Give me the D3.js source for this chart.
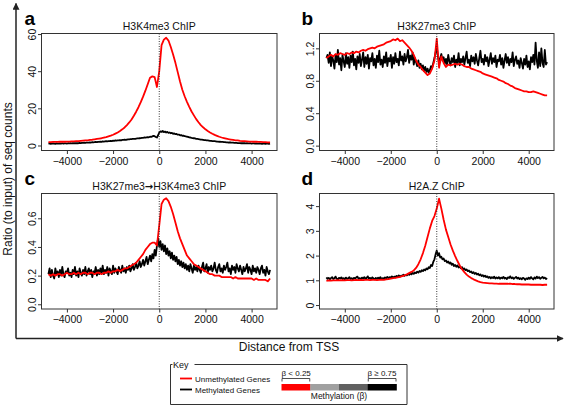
<!DOCTYPE html>
<html>
<head>
<meta charset="utf-8">
<script src="https://cdn.jsdelivr.net/npm/d3@7"></script>
<style>
  html, body { margin: 0; padding: 0; background: #fff; }
  svg { display: block; font-family: "Liberation Sans", Arial, Helvetica, sans-serif; }
</style>
</head>
<body>
<svg id="chart" width="567" height="407"></svg>
<script>
// ---------------- data ----------------
const distCoarse = d3.range(-4800, 4801, 100);   // 97 bins (red series)
const distFine = d3.range(-4800, 4801, 50);      // 193 bins (black series)
const xTicks = [-4000, -2000, 0, 2000, 4000];

const panelTitles = ["H3K4me3 ChIP", "H3K27me3 ChIP", "H3K27me3\u2192H3K4me3 ChIP", "H2A.Z ChIP"];
const panelLetters = ["a", "b", "c", "d"];
const seriesNames = ["Unmethylated Genes", "Methylated Genes"];

const yTicksA = [0, 20, 40, 60];
const yTickLabelsA = ["0", "20", "40", "60"];
const yTicksB = [0, 0.4, 0.8, 1.2];
const yTickLabelsB = ["0.0", "0.4", "0.8", "1.2"];
const yTicksC = [0, 0.2, 0.4, 0.6];
const yTickLabelsC = ["0.0", "0.2", "0.4", "0.6"];
const yTicksD = [0, 1, 2, 3, 4];
const yTickLabelsD = ["0", "1", "2", "3", "4"];

// Panel a: H3K4me3
const unmethA = [
  1.8,1.8,1.9,1.9,1.9,2.0,2.0,2.0,2.1,2.1,
  2.2,2.2,2.3,2.4,2.5,2.6,2.7,2.8,3.0,3.1,
  3.3,3.5,3.7,3.9,4.2,4.5,4.9,5.3,5.8,6.4,
  7.0,7.8,8.7,9.7,11.0,12.4,14.0,16.0,18.2,20.6,
  23.3,26.3,29.5,33.0,36.5,37.2,36.8,31.5,40.0,54.0,
  57.0,58.0,56.5,53.0,49.0,44.5,39.5,34.5,30.0,26.5,
  23.5,20.8,18.3,16.2,14.2,12.5,11.0,9.8,8.7,7.8,
  7.0,6.3,5.7,5.2,4.7,4.3,4.0,3.7,3.4,3.2,
  3.0,2.8,2.7,2.5,2.4,2.3,2.2,2.1,2.1,2.0,
  2.0,1.9,1.9,1.8,1.8,1.7,1.7
];
const methA = [
  1.0,1.1,0.9,1.0,1.1,1.0,0.9,1.1,1.0,1.0,
  1.1,1.0,1.2,1.0,1.1,1.1,1.0,1.2,1.1,1.2,
  1.1,1.2,1.2,1.3,1.2,1.3,1.2,1.4,1.3,1.4,
  1.4,1.5,1.4,1.6,1.5,1.6,1.7,1.6,1.8,1.7,
  1.8,1.9,1.8,2.0,1.9,2.1,2.0,2.2,2.1,2.2,
  2.3,2.2,2.4,2.3,2.5,2.4,2.6,2.5,2.7,2.6,
  2.8,2.7,2.9,2.8,3.0,3.0,3.1,3.0,3.2,3.3,
  3.3,3.4,3.4,3.5,3.6,3.5,3.7,3.8,3.8,3.9,
  4.0,4.1,4.1,4.3,4.2,4.4,4.5,4.4,4.7,4.6,
  4.9,5.2,5.0,4.6,4.3,5.5,7.0,7.6,7.3,7.8,
  7.2,7.5,7.0,7.3,6.8,7.0,6.6,6.8,6.3,6.5,
  6.1,6.2,5.8,5.9,5.5,5.6,5.2,5.3,5.0,4.9,
  4.7,4.6,4.4,4.3,4.1,4.0,3.9,3.8,3.6,3.5,
  3.4,3.3,3.2,3.1,3.0,2.9,2.9,2.8,2.7,2.6,
  2.5,2.5,2.4,2.3,2.3,2.2,2.1,2.1,2.0,2.0,
  1.9,1.9,1.8,1.8,1.7,1.7,1.6,1.6,1.6,1.5,
  1.5,1.4,1.4,1.4,1.3,1.3,1.3,1.2,1.3,1.2,
  1.2,1.1,1.2,1.1,1.1,1.2,1.0,1.1,1.1,1.0,
  1.1,1.0,1.0,1.1,1.0,0.9,1.0,1.0,0.9,1.0,
  1.0,0.9,1.0
];

// Panel b: H3K27me3
const unmethB = [
  1.08,1.10,1.12,1.10,1.13,1.12,1.14,1.13,1.12,1.14,
  1.13,1.15,1.14,1.16,1.15,1.17,1.18,1.17,1.19,1.20,
  1.21,1.20,1.22,1.23,1.24,1.25,1.27,1.28,1.29,1.31,
  1.30,1.32,1.29,1.30,1.27,1.24,1.21,1.17,1.12,1.05,
  1.00,0.97,0.93,0.90,0.87,0.89,0.95,1.05,1.32,0.96,
  1.10,1.02,0.97,1.00,0.99,1.00,1.01,1.00,1.01,1.00,
  0.98,0.97,0.97,0.95,0.94,0.93,0.92,0.91,0.89,0.88,
  0.87,0.86,0.85,0.84,0.83,0.81,0.80,0.79,0.77,0.76,
  0.74,0.73,0.71,0.70,0.69,0.68,0.67,0.67,0.66,0.66,
  0.67,0.66,0.65,0.64,0.63,0.62,0.62
];
const methB = [
  1.08,1.12,1.02,1.15,0.98,1.10,1.05,0.95,1.12,1.03,
  1.18,1.00,1.08,0.93,1.12,1.04,0.97,1.14,1.01,1.09,
  0.96,1.11,1.03,1.16,0.99,1.07,0.94,1.10,1.02,1.13,
  0.98,1.06,1.15,0.97,1.09,1.01,1.12,0.95,1.08,1.04,
  1.14,0.99,1.07,0.96,1.11,1.03,1.17,1.00,1.06,0.97,
  1.10,1.02,1.15,0.98,1.08,1.04,1.12,0.96,1.09,1.01,
  1.14,1.03,1.07,0.99,1.16,1.05,1.10,1.00,1.13,1.04,
  1.09,1.18,1.02,1.11,1.06,1.15,1.00,1.08,1.03,0.98,
  1.05,0.96,1.01,0.94,0.99,0.92,0.97,0.91,0.95,0.90,
  0.93,0.98,0.96,1.02,1.08,1.15,1.22,1.10,1.02,1.08,
  1.13,1.05,1.09,1.01,1.07,1.00,1.12,1.04,0.99,1.08,
  1.03,1.11,0.97,1.06,1.02,1.14,0.99,1.07,1.03,1.10,
  1.00,1.08,1.16,1.02,1.06,0.98,1.11,1.04,1.09,1.01,
  1.13,1.05,0.99,1.08,1.17,1.03,1.07,1.00,1.12,1.04,
  1.09,0.98,1.06,1.14,1.01,1.08,1.03,1.11,0.97,1.06,
  1.04,1.12,1.00,1.08,0.96,1.05,1.13,1.02,1.09,0.99,
  1.07,1.03,1.15,0.98,1.06,1.10,1.01,1.05,0.96,1.08,
  1.02,0.95,1.07,1.00,1.11,0.97,1.04,0.94,1.09,1.03,
  1.12,1.00,1.27,1.05,0.96,1.15,0.98,1.20,1.02,0.97,
  1.18,1.00,1.03
];

// Panel c: H3K27me3 -> H3K4me3
const unmethC = [
  0.21,0.20,0.21,0.20,0.21,0.21,0.20,0.21,0.22,0.21,
  0.21,0.22,0.21,0.22,0.21,0.22,0.22,0.21,0.22,0.22,
  0.21,0.22,0.22,0.21,0.22,0.22,0.23,0.22,0.23,0.23,
  0.24,0.23,0.24,0.25,0.25,0.26,0.27,0.28,0.29,0.31,
  0.33,0.35,0.38,0.40,0.42,0.43,0.43,0.41,0.55,0.70,
  0.73,0.74,0.72,0.68,0.63,0.57,0.51,0.46,0.42,0.38,
  0.34,0.32,0.30,0.28,0.27,0.26,0.25,0.24,0.23,0.22,
  0.21,0.21,0.20,0.20,0.20,0.19,0.19,0.19,0.19,0.19,
  0.18,0.19,0.18,0.18,0.18,0.18,0.18,0.18,0.18,0.17,
  0.18,0.17,0.17,0.17,0.17,0.16,0.18
];
const methC = [
  0.21,0.25,0.19,0.24,0.20,0.18,0.25,0.21,0.23,0.19,
  0.24,0.20,0.26,0.21,0.19,0.23,0.22,0.25,0.20,0.22,
  0.19,0.24,0.21,0.26,0.20,0.23,0.19,0.25,0.22,0.20,
  0.24,0.21,0.26,0.20,0.23,0.25,0.21,0.24,0.19,0.23,
  0.22,0.26,0.20,0.24,0.21,0.25,0.22,0.27,0.21,0.24,
  0.22,0.26,0.20,0.25,0.23,0.21,0.27,0.22,0.25,0.23,
  0.21,0.26,0.24,0.22,0.27,0.23,0.25,0.22,0.26,0.24,
  0.27,0.23,0.25,0.28,0.24,0.26,0.29,0.25,0.27,0.30,
  0.26,0.28,0.31,0.27,0.30,0.33,0.28,0.31,0.34,0.30,
  0.35,0.32,0.38,0.34,0.41,0.46,0.40,0.44,0.38,0.42,
  0.37,0.41,0.35,0.39,0.34,0.37,0.32,0.36,0.31,0.34,
  0.30,0.33,0.28,0.31,0.27,0.30,0.26,0.29,0.25,0.28,
  0.24,0.27,0.23,0.28,0.25,0.22,0.27,0.24,0.26,0.23,
  0.27,0.24,0.22,0.26,0.29,0.23,0.25,0.28,0.22,0.26,
  0.24,0.27,0.23,0.25,0.29,0.24,0.22,0.26,0.28,0.23,
  0.25,0.22,0.27,0.24,0.26,0.29,0.23,0.25,0.21,0.27,
  0.24,0.26,0.22,0.28,0.25,0.23,0.27,0.24,0.21,0.26,
  0.23,0.25,0.28,0.22,0.26,0.24,0.21,0.27,0.23,0.25,
  0.22,0.26,0.24,0.21,0.25,0.27,0.22,0.24,0.20,0.26,
  0.23,0.21,0.24
];

// Panel d: H2A.Z
const unmethD = [
  0.98,1.00,0.99,1.00,1.00,1.01,1.00,1.01,1.00,1.01,
  1.01,1.00,1.01,1.02,1.01,1.02,1.01,1.02,1.02,1.01,
  1.02,1.02,1.01,1.02,1.03,1.02,1.04,1.05,1.07,1.09,
  1.10,1.12,1.14,1.17,1.20,1.24,1.29,1.34,1.40,1.50,
  1.65,1.85,2.10,2.40,2.75,3.10,3.40,3.60,3.90,4.30,
  3.90,3.45,3.05,2.75,2.45,2.20,1.98,1.78,1.60,1.45,
  1.33,1.23,1.15,1.09,1.04,1.00,0.96,0.93,0.91,0.90,
  0.89,0.88,0.88,0.87,0.87,0.86,0.86,0.86,0.86,0.86,
  0.87,0.85,0.85,0.84,0.84,0.83,0.83,0.83,0.83,0.82,
  0.82,0.82,0.82,0.82,0.81,0.82,0.82
];
const methD = [
  1.12,1.06,1.10,1.04,1.09,1.13,1.05,1.08,1.15,1.06,
  1.03,1.10,1.07,1.12,1.05,1.09,1.04,1.11,1.06,1.08,
  1.13,1.05,1.09,1.03,1.10,1.07,1.12,1.15,1.06,1.09,
  1.04,1.11,1.07,1.13,1.06,1.09,1.16,1.07,1.10,1.05,
  1.12,1.08,1.04,1.10,1.06,1.11,1.07,1.13,1.05,1.09,
  1.06,1.12,1.08,1.14,1.09,1.13,1.10,1.16,1.11,1.15,
  1.12,1.18,1.14,1.20,1.15,1.19,1.17,1.23,1.18,1.22,
  1.20,1.26,1.22,1.28,1.24,1.30,1.26,1.32,1.29,1.35,
  1.31,1.38,1.34,1.41,1.37,1.44,1.40,1.48,1.45,1.53,
  1.50,1.62,1.58,1.75,1.85,2.05,2.20,2.00,2.10,1.92,
  1.95,1.85,1.88,1.78,1.80,1.72,1.76,1.68,1.72,1.63,
  1.67,1.58,1.62,1.55,1.60,1.52,1.56,1.49,1.53,1.45,
  1.48,1.41,1.44,1.37,1.40,1.33,1.36,1.29,1.33,1.26,
  1.30,1.23,1.27,1.20,1.24,1.17,1.21,1.15,1.19,1.13,
  1.16,1.10,1.14,1.08,1.13,1.09,1.15,1.07,1.12,1.08,
  1.13,1.06,1.11,1.08,1.14,1.07,1.10,1.05,1.12,1.09,
  1.16,1.08,1.12,1.06,1.10,1.14,1.07,1.11,1.05,1.09,
  1.04,1.10,1.07,1.02,1.08,1.05,1.11,1.06,1.13,1.08,
  1.04,1.12,1.07,1.15,1.09,1.13,1.06,1.10,1.14,1.08,
  1.11,1.05,1.09
];

const methylationBins = ["\u03b2 < 0.25", "", "", "\u03b2 \u2265 0.75"];
const methylationColors = ["#ff0000", "#a0a0a0", "#606060", "#000000"];

// ---------------- layout ----------------
const svg = d3.select("#chart");
const AXIS = "#333";
const RED = "#ff0000";
const BLACK = "#000000";

const boxes = [
  { x0: 41.5, x1: 277, y0: 33.5, y1: 150.5 },
  { x0: 319.5, x1: 554, y0: 33.5, y1: 150.5 },
  { x0: 41.5, x1: 277, y0: 193.5, y1: 309 },
  { x0: 319.5, x1: 554, y0: 193.5, y1: 309 }
];
const yDomains = [[-2.7, 60.3], [-0.06, 1.383], [-0.033, 0.773], [-0.16, 4.51]];

const panels = [
  { unmeth: unmethA, meth: methA, ticks: yTicksA, labels: yTickLabelsA },
  { unmeth: unmethB, meth: methB, ticks: yTicksB, labels: yTickLabelsB },
  { unmeth: unmethC, meth: methC, ticks: yTicksC, labels: yTickLabelsC },
  { unmeth: unmethD, meth: methD, ticks: yTicksD, labels: yTickLabelsD }
];

panels.forEach((p, i) => {
  const b = boxes[i];
  const x = d3.scaleLinear().domain([-5100, 5100]).range([b.x0, b.x1]);
  const y = d3.scaleLinear().domain(yDomains[i]).range([b.y1, b.y0]);
  const g = svg.append("g");

  const clipId = "clip" + i;
  svg.append("clipPath").attr("id", clipId).append("rect")
    .attr("x", b.x0).attr("y", b.y0).attr("width", b.x1 - b.x0).attr("height", b.y1 - b.y0);

  // x axis
  const xa = g.append("g").attr("transform", `translate(0,${b.y1})`)
    .call(d3.axisBottom(x).tickValues(xTicks).tickSize(3.5).tickSizeOuter(0)
      .tickFormat(d => (d < 0 ? "\u2212" + Math.abs(d) : String(d))));
  xa.select(".domain").remove();
  xa.selectAll("line").attr("stroke", AXIS);
  xa.selectAll("text").attr("fill", "#111").attr("font-size", "10.5px")
    .attr("font-family", "Liberation Sans, Arial, sans-serif").attr("y", 7).attr("dy", "0.71em");

  // y axis
  const ya = g.append("g").attr("transform", `translate(${b.x0},0)`)
    .call(d3.axisLeft(y).tickValues(p.ticks).tickSize(3.5).tickSizeOuter(0)
      .tickFormat((d, k) => p.labels[k]));
  ya.select(".domain").remove();
  ya.selectAll("line").attr("stroke", AXIS);
  ya.selectAll("text").attr("fill", "#111").attr("font-size", "10.5px")
    .attr("font-family", "Liberation Sans, Arial, sans-serif")
    .attr("transform", "rotate(-90)").attr("x", 0).attr("y", -6).attr("dy", 0)
    .attr("text-anchor", "middle");

  // lines
  const plot = g.append("g").attr("clip-path", `url(#${clipId})`);
  const line = d3.line().x(d => x(d[0])).y(d => y(d[1]));
  plot.append("path").datum(distFine.map((d, k) => [d, p.meth[k]]))
    .attr("d", line).attr("fill", "none").attr("stroke", BLACK).attr("stroke-width", 1.8)
    .attr("stroke-linejoin", "round");
  plot.append("path").datum(distCoarse.map((d, k) => [d, p.unmeth[k]]))
    .attr("d", line).attr("fill", "none").attr("stroke", RED).attr("stroke-width", 1.8)
    .attr("stroke-linejoin", "round");

  // dotted TSS line
  g.append("line").attr("x1", x(0)).attr("x2", x(0)).attr("y1", b.y0).attr("y2", b.y1)
    .attr("stroke", "#222").attr("stroke-width", 0.9).attr("stroke-dasharray", "1,1.5");

  // box
  g.append("rect").attr("x", b.x0).attr("y", b.y0).attr("width", b.x1 - b.x0).attr("height", b.y1 - b.y0)
    .attr("fill", "none").attr("stroke", AXIS).attr("stroke-width", 1);

  // title
  const t = g.append("text").attr("x", (b.x0 + b.x1) / 2).attr("y", b.y0 - 4)
    .attr("text-anchor", "middle").attr("font-size", "10.5px").attr("fill", "#111");
  const parts = panelTitles[i].split("\u2192");
  parts.forEach((s, k) => {
    if (k > 0) t.append("tspan").attr("font-family", "DejaVu Sans").attr("font-weight", "bold")
      .attr("font-size", "10px").text("\u2192");
    t.append("tspan").text(s);
  });

  // panel letter
  g.append("text").attr("x", i % 2 === 0 ? 24.5 : 301.5).attr("y", i < 2 ? 25 : 185)
    .attr("font-size", "19px").attr("font-weight", "bold").attr("fill", "#000")
    .text(panelLetters[i]);
});

// ---------------- outer arrows ----------------
svg.append("defs").append("marker").attr("id", "arr").attr("viewBox", "0 0 10 10")
  .attr("refX", 9).attr("refY", 5).attr("markerWidth", 7).attr("markerHeight", 7)
  .attr("markerUnits", "userSpaceOnUse").attr("orient", "auto")
  .append("path").attr("d", "M0,0 L10,5 L0,10 z").attr("fill", "#222");

svg.append("path").attr("d", "M16,338.5 L16,3.5").attr("stroke", "#222").attr("stroke-width", 1.5)
  .attr("fill", "none").attr("marker-end", "url(#arr)");
svg.append("path").attr("d", "M16,338.5 L563,338.5").attr("stroke", "#222").attr("stroke-width", 1.5)
  .attr("fill", "none").attr("marker-end", "url(#arr)");

svg.append("text").attr("transform", "translate(12,179) rotate(-90)")
  .attr("text-anchor", "middle").attr("font-size", "12px").attr("fill", "#111")
  .text("Ratio (to input) of seq counts");

svg.append("text").attr("x", 289).attr("y", 351)
  .attr("text-anchor", "middle").attr("font-size", "12px").attr("fill", "#111")
  .text("Distance from TSS");

// ---------------- key ----------------
const key = svg.append("g");
const kx0 = 170.5, kx1 = 407, ky0 = 364.5, ky1 = 404.5;
key.append("path").attr("d", `M${kx0 + 24},${ky0} L${kx1},${ky0} L${kx1},${ky1} L${kx0},${ky1} L${kx0},${ky0} L${kx0 + 2},${ky0}`)
  .attr("fill", "none").attr("stroke", "#333").attr("stroke-width", 1);
key.append("text").attr("x", kx0 + 2.5).attr("y", ky0 + 3.5).attr("font-size", "9px").attr("fill", "#111").text("Key");

const legendColors = [RED, BLACK];
seriesNames.forEach((name, k) => {
  const yy = 378.5 + k * 11;
  key.append("line").attr("x1", 180).attr("x2", 192).attr("y1", yy).attr("y2", yy)
    .attr("stroke", legendColors[k]).attr("stroke-width", 1.8);
  key.append("text").attr("x", 195).attr("y", yy + 3).attr("font-size", "8px").attr("fill", "#111").text(name);
});

const cb = d3.scaleBand().domain(d3.range(methylationColors.length)).range([281.5, 396.5]);
methylationColors.forEach((c, k) => {
  key.append("rect").attr("x", cb(k)).attr("y", 384).attr("width", cb.bandwidth() + 0.3).attr("height", 6.5)
    .attr("fill", c);
  if (methylationBins[k]) {
    const bx0 = cb(k), bx1 = cb(k) + cb.bandwidth();
    key.append("path").attr("d", `M${bx0 + 0.5},381.5 L${bx0 + 0.5},378.5 L${bx1 - 0.5},378.5 L${bx1 - 0.5},381.5`)
      .attr("fill", "none").attr("stroke", "#222").attr("stroke-width", 0.8);
    key.append("text").attr("x", k === 0 ? bx0 : bx1).attr("y", 376)
      .attr("text-anchor", k === 0 ? "start" : "end")
      .attr("font-size", "8px").attr("fill", "#111").text(methylationBins[k]);
  }
});
key.append("text").attr("x", 339).attr("y", 398.5).attr("text-anchor", "middle")
  .attr("font-size", "8.5px").attr("fill", "#111").text("Methylation (\u03b2)");
</script>
</body>
</html>
